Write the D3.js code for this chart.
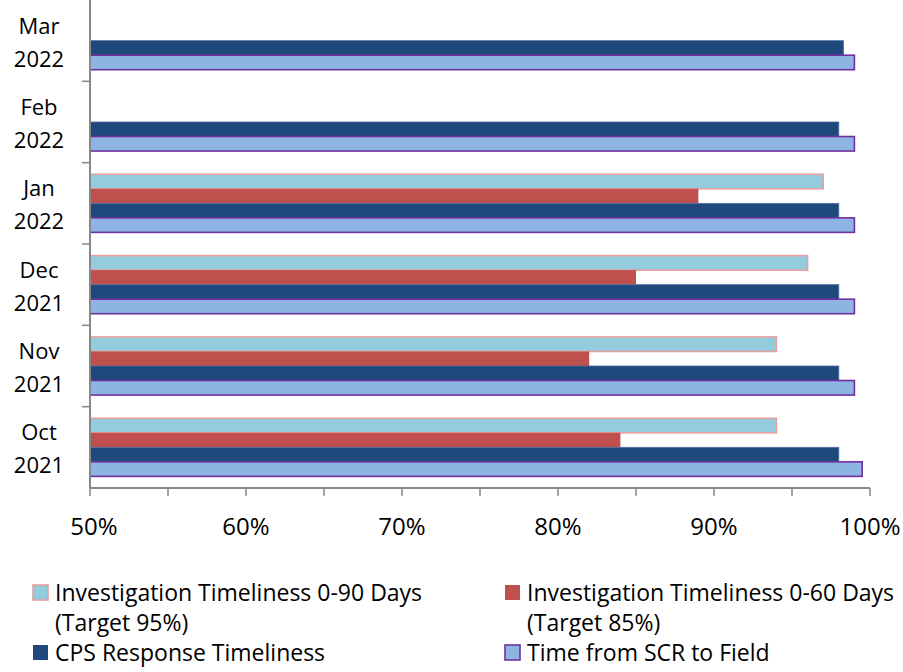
<!DOCTYPE html>
<html>
<head>
<meta charset="utf-8">
<script src="https://cdn.jsdelivr.net/npm/d3@7.9.0/dist/d3.min.js"></script>
<style>
  body { margin: 0; background: #fff; }
  svg { display: block; font-family: "Open Sans", Lato, sans-serif; }
</style>
</head>
<body>
<svg id="chart" width="903" height="672"></svg>
<script>
// months, top to bottom as drawn
const months = [['Mar', '2022'], ['Feb', '2022'], ['Jan', '2022'], ['Dec', '2021'], ['Nov', '2021'], ['Oct', '2021']];

const seriesNames = [
  'Investigation Timeliness 0-90 Days (Target 95%)',
  'Investigation Timeliness 0-60 Days (Target 85%)',
  'CPS Response Timeliness',
  'Time from SCR to Field'
];

// values in %, same order as months (null = no data)
const inv90 = [null, null, 97, 96, 94, 94];
const inv60 = [null, null, 89, 85, 82, 84];
const cpsResponse = [98.3, 98, 98, 98, 98, 98];
const scrToField = [99, 99, 99, 99, 99, 99.5];

const xTicks = [50, 60, 70, 80, 90, 100];

const fills = ['#93cddd', '#c0504d', '#1f497d', '#8eb4e3'];
const strokes = ['#e6a0a0', 'none', '#4f6f9a', '#7030a0'];

const allSeries = [inv90, inv60, cpsResponse, scrToField];

const svg = d3.select('#chart');
const plotL = 90, plotR = 870, plotT = 0, plotB = 488;

const x = d3.scaleLinear().domain([50, 100]).range([plotL, plotR]);
const y = d3.scaleBand().domain(months.map(m => m.join(' '))).range([plotT, plotB]);
const yInner = d3.scaleBand().domain(d3.range(4)).range([0, y.bandwidth()]).paddingOuter(0.8);

// bars
months.forEach((m, i) => {
  const key = m.join(' ');
  const g = svg.append('g').attr('transform', `translate(0,${y(key)})`);
  allSeries.forEach((vals, s) => {
    const v = vals[i];
    if (v == null) return;
    g.append('rect')
      .attr('x', x(50))
      .attr('y', yInner(s))
      .attr('width', x(v) - x(50))
      .attr('height', yInner.bandwidth())
      .attr('fill', fills[s])
      .attr('stroke', strokes[s])
      .attr('stroke-width', s === 2 ? 0.8 : 1.6);
  });
});

// x axis
const axisColor = '#878787';
svg.append('line')
  .attr('x1', plotL).attr('x2', plotR).attr('y1', plotB).attr('y2', plotB)
  .attr('stroke', axisColor).attr('stroke-width', 2);
d3.range(50, 101, 5).forEach(t => {
  svg.append('line')
    .attr('x1', x(t)).attr('x2', x(t)).attr('y1', plotB).attr('y2', plotB + 8)
    .attr('stroke', axisColor).attr('stroke-width', 1.5);
});
svg.selectAll('.xlab').data(xTicks).join('text')
  .attr('class', 'xlab')
  .attr('x', d => x(d) + (d === 50 ? 4 : 0))
  .attr('y', 535)
  .attr('text-anchor', 'middle')
  .attr('font-size', 24)
  .attr('fill', '#000')
  .text(d => d + '%');

// y axis
svg.append('line')
  .attr('x1', plotL).attr('x2', plotL).attr('y1', plotT).attr('y2', plotB)
  .attr('stroke', axisColor).attr('stroke-width', 2);
months.forEach((m, i) => {
  const key = m.join(' ');
  if (i > 0) {
    svg.append('line')
      .attr('x1', plotL - 8).attr('x2', plotL).attr('y1', y(key)).attr('y2', y(key))
      .attr('stroke', axisColor).attr('stroke-width', 1.5);
  }
  const cy = y(key) + y.bandwidth() / 2;
  const t = svg.append('text')
    .attr('text-anchor', 'middle')
    .attr('font-size', 22)
    .attr('fill', '#000');
  t.append('tspan').attr('x', 39).attr('y', cy - 7).text(m[0]);
  t.append('tspan').attr('x', 39).attr('y', cy + 26).text(m[1]);
});

// legend
const legendItems = [
  { s: 0, x: 33, y: 585, lines: ['Investigation Timeliness 0-90 Days', '(Target 95%)'] },
  { s: 1, x: 505, y: 585, lines: ['Investigation Timeliness 0-60 Days', '(Target 85%)'] },
  { s: 2, x: 33, y: 645, lines: ['CPS Response Timeliness'] },
  { s: 3, x: 505, y: 645, lines: ['Time from SCR to Field'] }
];
legendItems.forEach(d => {
  svg.append('rect')
    .attr('x', d.x).attr('y', d.y)
    .attr('width', 15).attr('height', 15)
    .attr('fill', fills[d.s])
    .attr('stroke', d.s === 0 ? '#e6a0a0' : d.s === 3 ? '#7030a0' : 'none')
    .attr('stroke-width', 1.6);
  const t = svg.append('text').attr('font-size', 23).attr('fill', '#000');
  d.lines.forEach((line, k) => {
    t.append('tspan').attr('x', d.x + 22).attr('y', d.y + 16 + k * 30).text(line);
  });
});
</script>
</body>
</html>
